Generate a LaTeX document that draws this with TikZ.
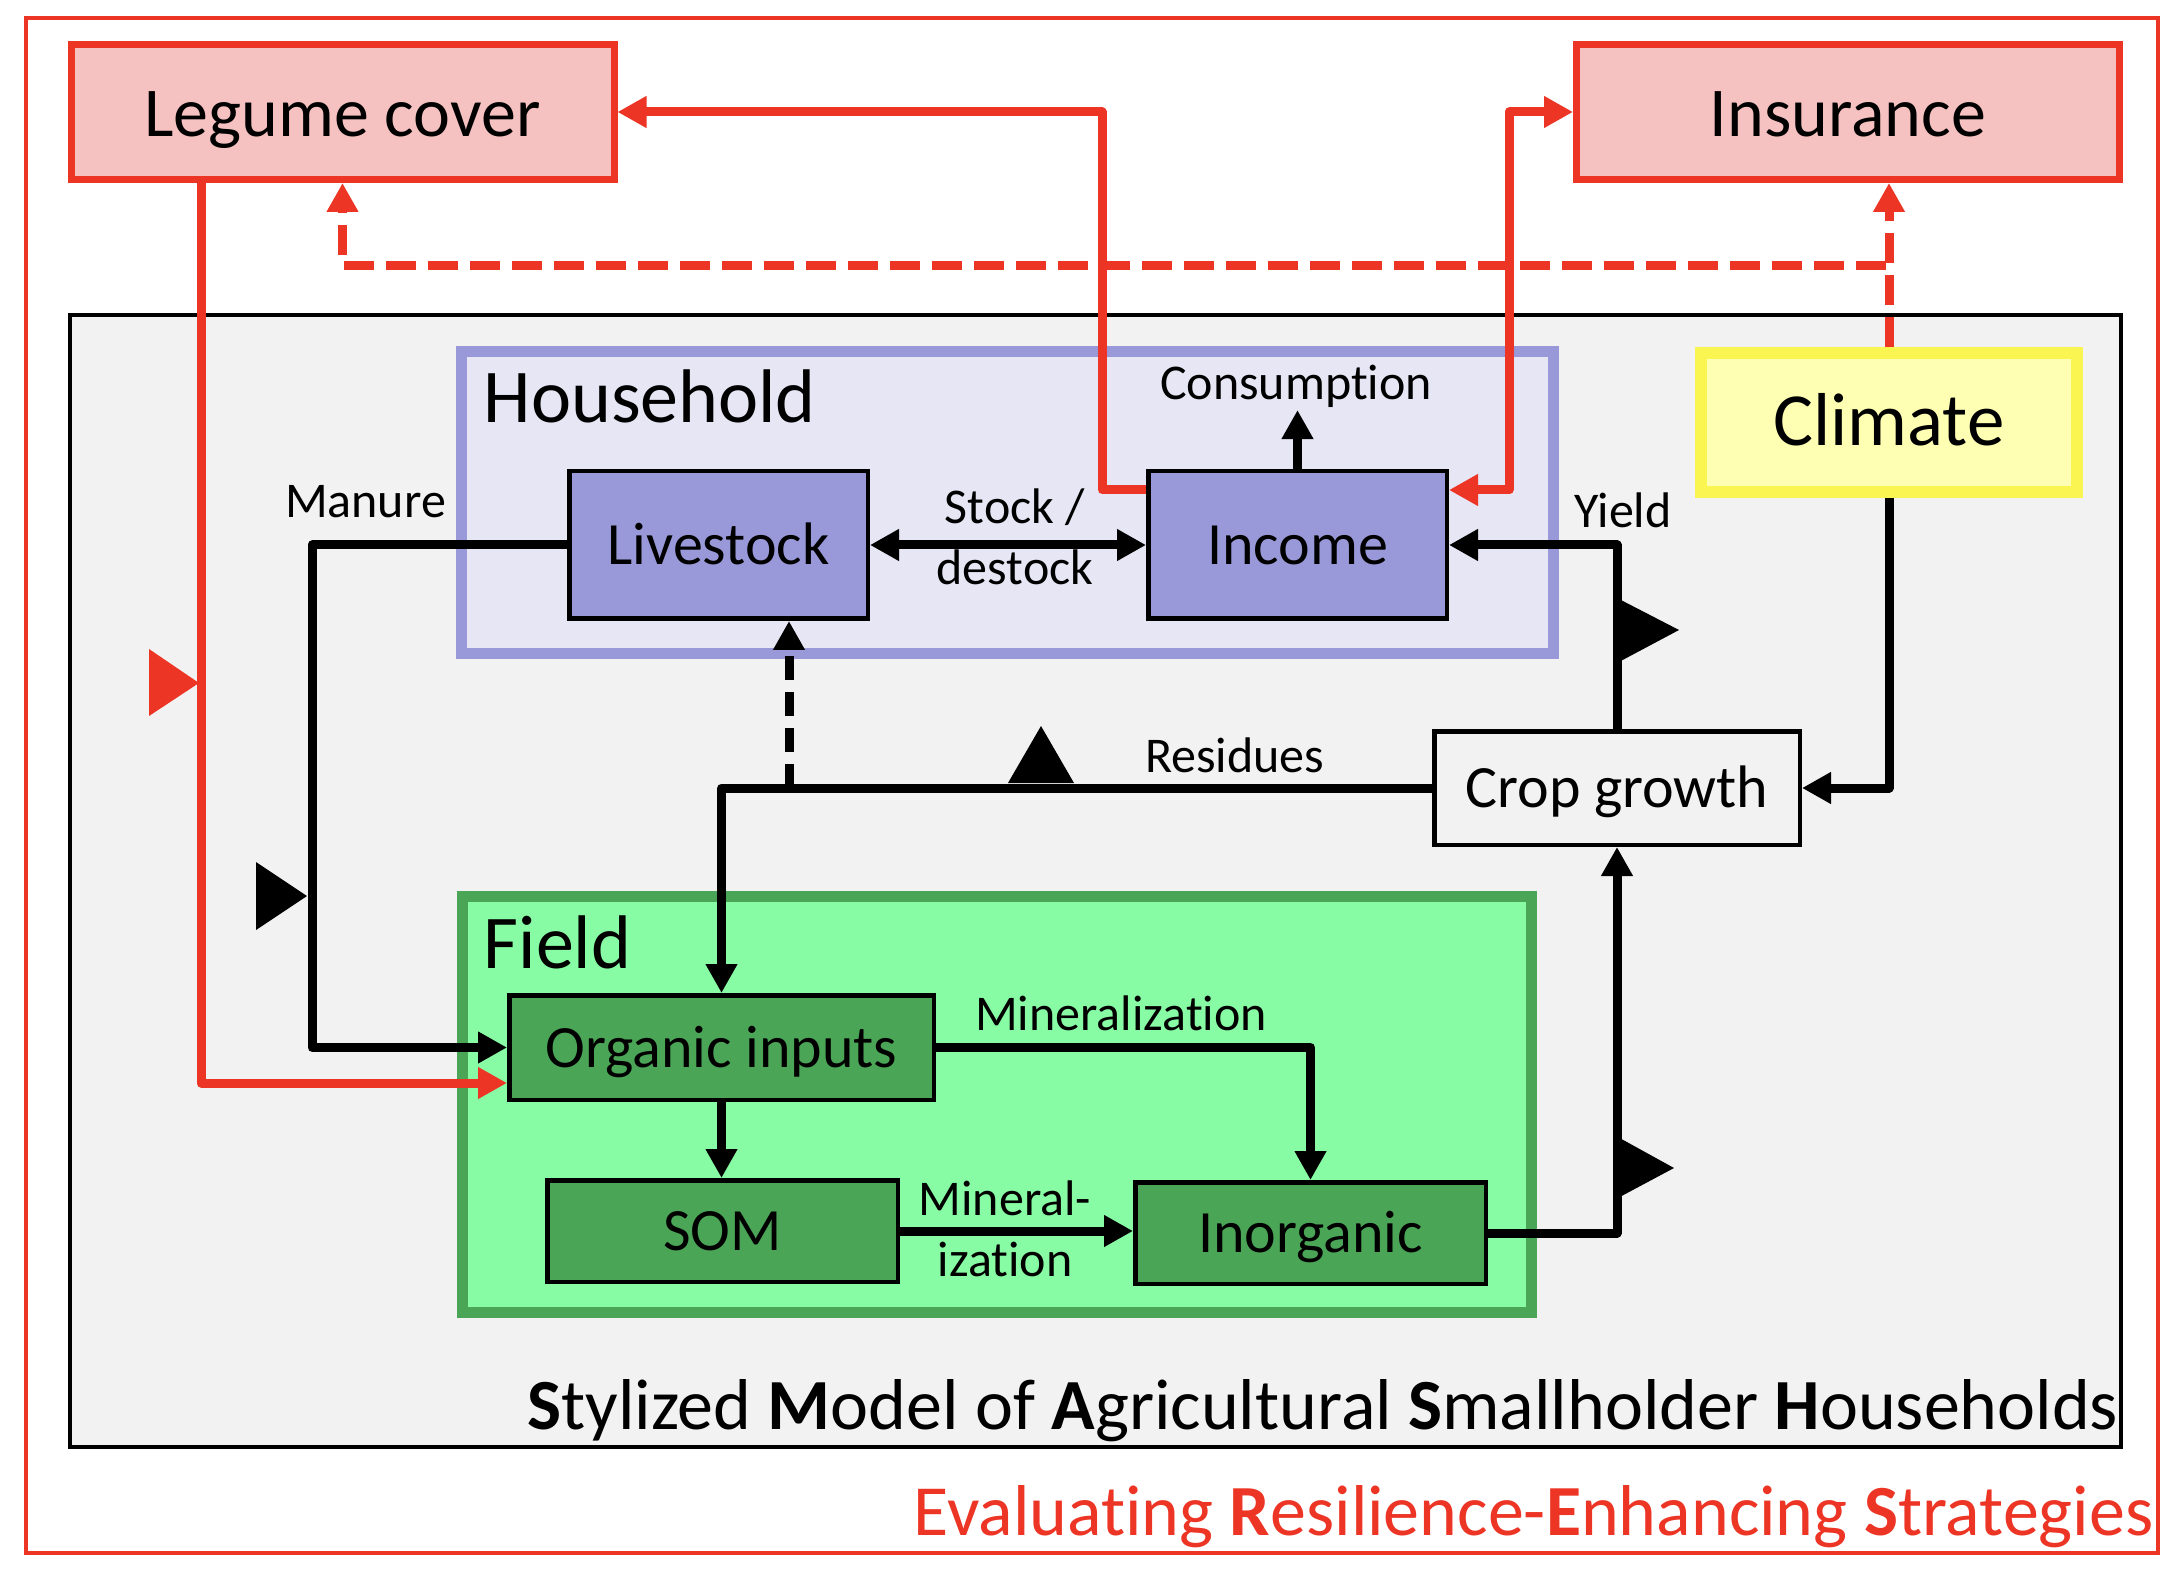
\documentclass[tikz,border=0pt]{standalone}
\usepackage{fontspec}
\setmainfont{Carlito}[Ligatures=NoCommon]
\usetikzlibrary{arrows.meta}

\definecolor{esred}{RGB}{237,53,38}
\definecolor{pinkfill}{RGB}{246,194,193}
\definecolor{smashgray}{RGB}{242,242,242}
\definecolor{hhfill}{RGB}{230,230,245}
\definecolor{hhline}{RGB}{153,153,217}
\definecolor{climfill}{RGB}{255,255,180}
\definecolor{climline}{RGB}{250,245,80}
\definecolor{fieldfill}{RGB}{136,252,164}
\definecolor{fieldline}{RGB}{75,165,87}

\tikzset{every picture/.style={line width=0.75pt}}
\tikzset{
  headtip/.style={-{Triangle[length=14.5pt,width=15pt]}},
  bothtips/.style={{Triangle[length=14.5pt,width=15pt]}-{Triangle[length=14.5pt,width=15pt]}},
  flow/.style={line width=4.5pt, line join=round, headtip},
  redflow/.style={flow, draw=esred},
  reddash/.style={dash pattern=on 15pt off 6pt},
  blackdash/.style={dash pattern=on 12pt off 6pt},
  lbltext/.style={inner sep=0pt, outer sep=1pt, font=\fontsize{25pt}{30.5pt}\selectfont},
  grouptext/.style={inner sep=0pt, font=\fontsize{38pt}{46pt}\selectfont},
  titletext/.style={inner sep=0pt, font=\fontsize{36pt}{44pt}\selectfont},
  strategybox/.style={draw=esred, fill=pinkfill, line width=3.5pt, inner sep=0pt,
    minimum width=271.5pt, minimum height=67.5pt,
    font=\fontsize{35pt}{42pt}\selectfont, text height=25pt, text depth=0pt},
  climbox/.style={draw=climline, fill=climfill, line width=6pt, inner sep=0pt,
    minimum width=188pt, minimum height=69.5pt,
    font=\fontsize{37.5pt}{45pt}\selectfont, text height=23.5pt, text depth=0pt},
  itembox/.style={draw, line width=2.25pt, inner sep=0pt,
    font=\fontsize{30pt}{36pt}\selectfont, text height=19.5pt, text depth=0pt},
  hhitem/.style={itembox, fill=hhline, minimum width=149.25pt, minimum height=73.75pt},
  fielditem/.style={itembox, fill=fieldline},
  cropbox/.style={itembox, fill=smashgray, minimum width=182.75pt, minimum height=56.75pt},
  hhbox/.style={draw=hhline, fill=hhfill, line width=5.5pt, inner sep=0pt},
  fieldbox/.style={draw=fieldline, fill=fieldfill, line width=5.5pt, inner sep=0pt}
}

\begin{document}
\begin{tikzpicture}[x=0.5pt,y=0.5pt,yscale=-1,xscale=1]
		\useasboundingbox (0,0) rectangle (2174,1572);

		%Shape: Rectangle [outer frame]
		\draw [esred, line width=2pt] (26,18) rectangle (2158,1553);
		%Shape: Rectangle [model]
		\draw [fill=smashgray, line width=2pt] (70,315) rectangle (2121,1447);

		%Shape: Rectangle [household]
		\draw (1007.5,502.5) node [hhbox, minimum width=546pt, minimum height=151pt] (household) {};
		%Shape: Rectangle [field]
		\draw (997,1104.5) node [fieldbox, minimum width=534.5pt, minimum height=208pt] (field) {};

		% Text Node
		\draw (483,423) node [anchor=base west, grouptext] (hhtitle) {Household};
		% Text Node
		\draw (483,968) node [anchor=base west, grouptext] (fieldtitle) {Field};

		% Boxes
		\draw (342.5,112) node [strategybox] (legume) {Legume cover};
		\draw (1848,112) node [strategybox] (insurance) {Insurance};
		\draw (1889,422.5) node [climbox] (climate) {Climate};
		\draw (718.5,545) node [hhitem] (livestock) {Livestock};
		\draw (1297.5,545) node [hhitem] (income) {Income};
		\draw (1617,788) node [cropbox] (crop) {Crop growth};
		\draw (721.5,1047.5) node [fielditem, minimum width=212.25pt, minimum height=52.25pt] (organic) {Organic inputs};
		\draw (722.5,1231) node [fielditem, minimum width=175.25pt, minimum height=50.75pt] (som) {SOM};
		\draw (1310.5,1233) node [fielditem, minimum width=175.25pt, minimum height=50.75pt] (inorganic) {Inorganic};

		% Text Node
		\draw (283,518) node [anchor=base west, lbltext] (manurelbl) {Manure};
		% Text Node
		\draw (1015,537) node [lbltext, align=center] (stocklbl) {Stock /\\destock};
		% Text Node
		\draw (1296,400) node [anchor=base, lbltext] (consumption) {Consumption};
		% Text Node
		\draw (1572,528) node [anchor=base west, lbltext] (yieldlbl) {Yield};
		% Text Node
		\draw (1143,772) node [anchor=base west, lbltext] (residueslbl) {Residues};
		% Text Node
		\draw (973,1030) node [anchor=base west, lbltext] (minlbl) {Mineralization};
		% Text Node
		\draw (1005,1229) node [lbltext, align=center] (minsomlbl) {Mineral-\\ization};

		% Connectors
		\draw [flow] (livestock.west) -- ++(-255,0) |- (organic.west);
		\draw [flow] (crop.west) -| (organic.north);
		\path (livestock.south) ++(70.5,0) coordinate (lvdash);
		\draw [flow, blackdash] (lvdash |- crop.west) -- (lvdash);
		\draw [flow, bothtips] (livestock.east) -- (income.west);
		\draw [flow] (income.north) -- (income.north |- consumption.south);
		\draw [flow] (crop.north) |- (income.east);
		\draw [flow] (climate.south) |- (crop.east);
		\draw [flow] (inorganic.east) -| (crop.south);
		\draw [flow] (organic.east) -| (inorganic.north);
		\draw [flow] (organic.south) -- (organic.south |- som.north);
		\draw [flow] (som.east) -- (som.east -| inorganic.west);

		% Strategy connectors
		\draw [redflow] ([yshift=-27.5pt]income.west) -- ++(-44,0) |- (legume.east);
		\draw [redflow, bothtips] ([yshift=-27.5pt]income.east) -- ++(60,0) |- (insurance.west);
		\draw [redflow, reddash] (climate.north) -- (climate.north |- insurance.south);
		\draw [redflow, reddash] (climate.north) -- ++(0,-81) -| (legume.south);
		\draw [redflow] ([xshift=-70.75pt]legume.south) |- ([yshift=17.75pt]organic.west);

		%Shape: Triangle markers
		\fill [esred] (149,649) -- (199,683) -- (149,716) -- cycle;
		\fill (256,862) -- (307,896) -- (256,930) -- cycle;
		\fill (1617,598) -- (1679,630) -- (1617,663) -- cycle;
		\fill (1616,1136) -- (1674,1168) -- (1616,1199) -- cycle;
		\fill (1008,783) -- (1041,726) -- (1074,783) -- cycle;

		% Text Node
		\draw (2119,1429) node [anchor=base east, titletext] (smash) {\textbf{S}tylized \textbf{M}odel of \textbf{A}gricultural \textbf{S}mallholder \textbf{H}ouseholds};
		% Text Node
		\draw (2154,1535) node [anchor=base east, titletext, text=esred] (eres) {Evaluating \textbf{R}esilience-\textbf{E}nhancing \textbf{S}trategies};

\end{tikzpicture}
\end{document}
